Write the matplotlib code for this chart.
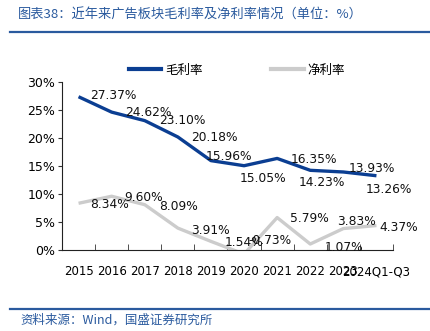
import matplotlib
matplotlib.use("agg")
import matplotlib.pyplot as plt
from matplotlib.lines import Line2D
from matplotlib.ticker import FixedLocator, PercentFormatter

plt.rcParams["font.family"] = ["DejaVu Sans", "Noto Sans CJK SC"]
CJK = ["Noto Sans CJK SC", "DejaVu Sans"]

years = ["2015", "2016", "2017", "2018", "2019", "2020", "2021", "2022", "2023", "2024Q1-Q3"]
gross_margin = [27.37, 24.62, 23.10, 20.18, 15.96, 15.05, 16.35, 14.23, 13.93, 13.26]
net_margin = [8.34, 9.60, 8.09, 3.91, 1.54, -0.73, 5.79, 1.07, 3.83, 4.37]

# label offsets in pixels (dx to left edge of text, dy up)
gross_offsets = [(12, 1), (13, 0), (14, 0), (13, -1), (-5, 4),
                 (-4, -13), (14, -1), (-12, -12), (5, 3), (-11, -14)]
net_offsets = [(12, -1), (13, -1), (14, -2), (13, -2), (14, -1),
               (4, 14), (13, -1), (14, -3), (-6, 7), (3, -2)]

BLUE = "#0B3E92"
GREY = "#CCCCCC"
HEAD = "#2A5A9E"

fig = plt.figure(figsize=(4.31, 3.31), dpi=100)
ax = fig.add_axes([62 / 431, 1 - 250 / 331, (393 - 62) / 431, (250 - 82) / 331])

x = list(range(len(years)))
ax.plot(x, gross_margin, color=BLUE, lw=2.4, solid_capstyle="butt")
ax.plot(x, net_margin, color=GREY, lw=2.4, solid_capstyle="butt")

for xi, v, (dx, dy) in zip(x, gross_margin, gross_offsets):
    ax.annotate(f"{v:.2f}%", (xi, v), xytext=(dx, dy), textcoords="offset pixels",
                ha="left", va="center", fontsize=8.8, color="#111111", annotation_clip=False)
for xi, v, (dx, dy) in zip(x, net_margin, net_offsets):
    ax.annotate(f"{v:.2f}%", (xi, v), xytext=(dx, dy), textcoords="offset pixels",
                ha="left", va="center", fontsize=8.8, color="#111111", annotation_clip=False)

ax.set_xlim(-0.5, len(years) - 0.5)
ax.set_ylim(0, 30)
ax.set_yticks([0, 5, 10, 15, 20, 25, 30])
ax.yaxis.set_major_formatter(PercentFormatter(decimals=0))
ax.set_xticks(x)
ax.set_xticklabels(years)
ax.xaxis.set_minor_locator(FixedLocator([i + 0.5 for i in x]))
ax.tick_params(axis="x", which="major", length=0, pad=11, labelsize=8.5)
ax.tick_params(axis="x", which="minor", length=4, direction="in", color="#333333")
ax.tick_params(axis="y", length=3, labelsize=9, pad=2, color="#333333")

for side in ["top", "right"]:
    ax.spines[side].set_visible(False)
ax.spines["left"].set_color("#222222")
ax.spines["bottom"].set_color("#222222")

handles = [Line2D([], [], color=BLUE, lw=3), Line2D([], [], color=GREY, lw=3)]
fig.legend(handles, ["毛利率", "净利率"], loc="center", bbox_to_anchor=(237 / 431, 1 - 70 / 331),
           ncol=2, frameon=False, prop={"family": CJK, "size": 9}, handlelength=2.6,
           columnspacing=5.5, handletextpad=0.3)

fig.text(18 / 431, 1 - 15 / 331, "图表38：近年来广告板块毛利率及净利率情况（单位：%）",
         family=CJK, fontsize=9.5, color=HEAD, va="center", ha="left")
fig.add_artist(Line2D([10 / 431, 430 / 431], [1 - 32 / 331] * 2, color=HEAD, lw=1.6))
fig.add_artist(Line2D([10 / 431, 430 / 431], [1 - 309 / 331] * 2, color=HEAD, lw=1.6))
fig.text(20 / 431, 1 - 320 / 331, "资料来源：Wind，国盛证券研究所",
         family=CJK, fontsize=9, color=HEAD, va="center", ha="left")

fig.savefig("out.png", dpi=100)
